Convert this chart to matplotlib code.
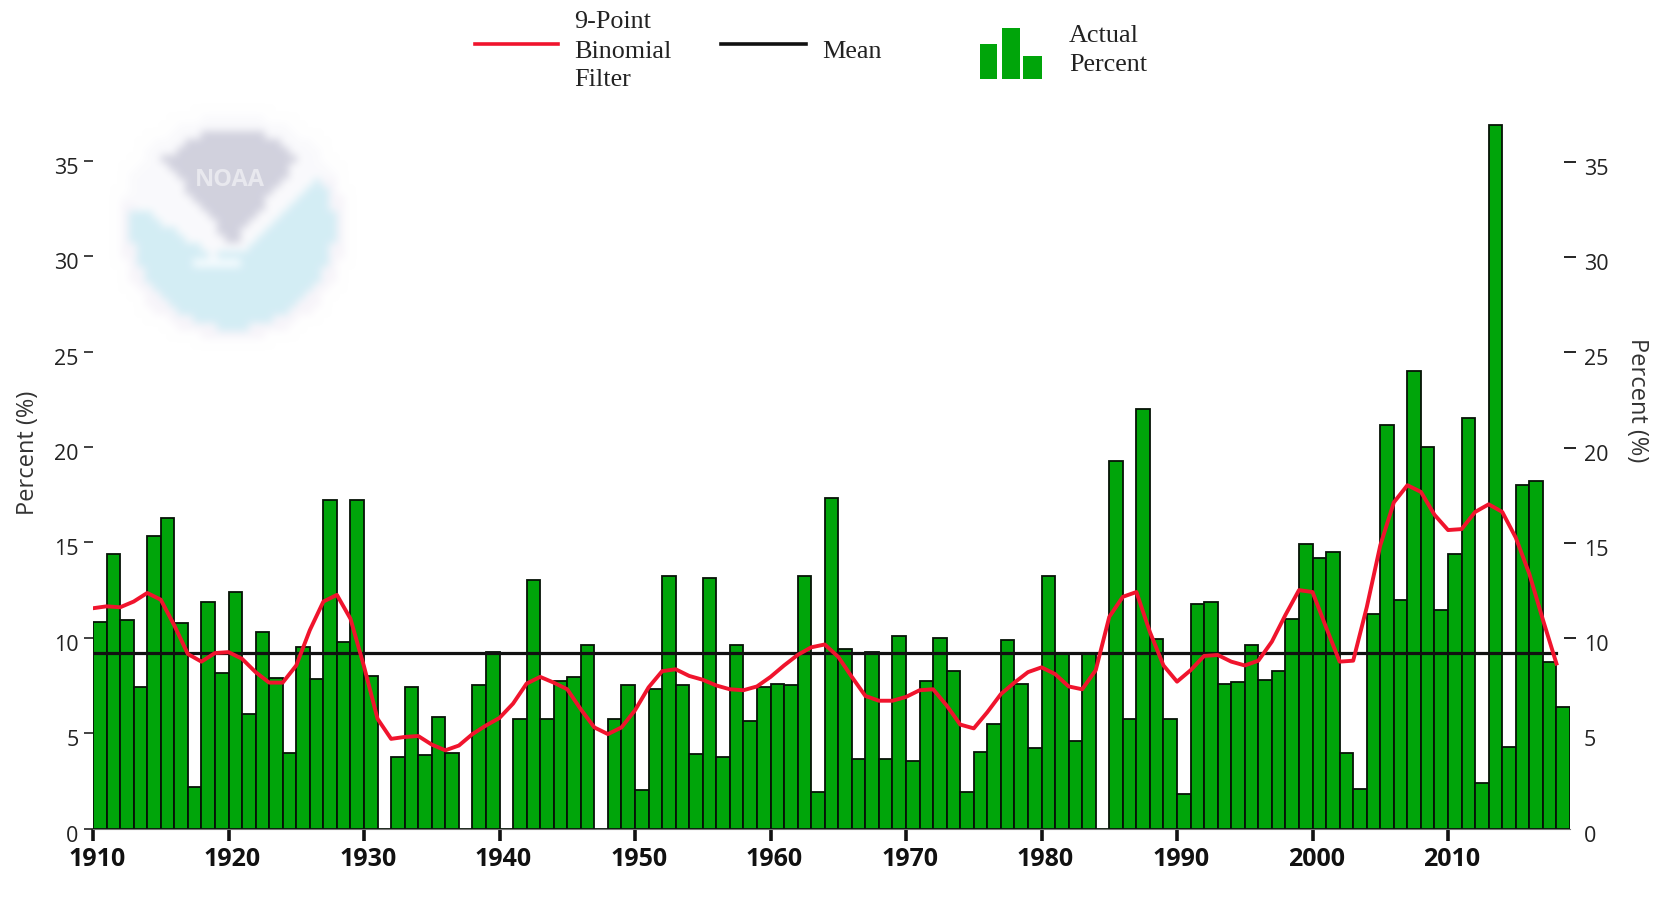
# Percent of area by year, bars with filter curve and mean line
import numpy as np
import matplotlib
matplotlib.use("Agg")
import matplotlib.pyplot as plt
from matplotlib.patches import Rectangle
from matplotlib.path import Path
from matplotlib.transforms import ScaledTranslation

years = list(range(1910, 2019))

actual_percent = [
    10.85, 14.4, 10.95, 7.4, 15.35, 16.3, 10.8, 2.2, 11.9, 8.15,
    12.4, 6.0, 10.3, 7.9, 3.95, 9.5, 7.85, 17.2, 9.8, 17.2,
    8.0, 0, 3.75, 7.4, 3.85, 5.85, 3.95, 0, 7.5, 9.25,
    0, 5.75, 13.05, 5.75, 7.75, 7.95, 9.6, 0, 5.75, 7.5,
    2.0, 7.3, 13.25, 7.5, 3.9, 13.15, 3.75, 9.6, 5.65, 7.4,
    7.6, 7.5, 13.25, 1.9, 17.35, 9.4, 3.65, 9.25, 3.65, 10.1,
    3.55, 7.75, 10.0, 8.25, 1.9, 4.0, 5.5, 9.9, 7.6, 4.2,
    13.25, 9.15, 4.6, 9.15, 0, 19.25, 5.75, 22.0, 9.95, 5.75,
    1.8, 11.75, 11.9, 7.6, 7.7, 9.6, 7.8, 8.25, 11.0, 14.9,
    14.2, 14.5, 3.95, 2.05, 11.25, 21.15, 12.0, 24.0, 20.0, 11.45,
    14.4, 21.5, 2.4, 36.9, 4.25, 18.0, 18.2, 8.75, 6.35,
]

binomial_filter = [
    11.55, 11.65, 11.6, 11.9, 12.35, 12.0, 10.65, 9.15, 8.75, 9.2,
    9.25, 8.9, 8.2, 7.65, 7.65, 8.55, 10.4, 11.9, 12.25, 11.0,
    8.5, 5.75, 4.7, 4.8, 4.85, 4.4, 4.1, 4.35, 4.95, 5.4,
    5.8, 6.55, 7.6, 7.95, 7.65, 7.3, 6.25, 5.3, 4.95, 5.3,
    6.2, 7.4, 8.25, 8.35, 8.0, 7.8, 7.5, 7.3, 7.25, 7.45,
    7.95, 8.55, 9.1, 9.5, 9.65, 9.0, 7.95, 6.95, 6.7, 6.7,
    6.9, 7.25, 7.3, 6.45, 5.45, 5.25, 6.1, 7.05, 7.65, 8.2,
    8.45, 8.1, 7.45, 7.3, 8.3, 11.1, 12.15, 12.4, 10.3, 8.55,
    7.7, 8.3, 9.05, 9.1, 8.75, 8.55, 8.8, 9.8, 11.2, 12.5,
    12.4, 10.55, 8.75, 8.8, 11.6, 14.85, 17.1, 18.0, 17.65, 16.45,
    15.65, 15.7, 16.6, 17.0, 16.6, 15.25, 13.35, 10.95, 8.65,
]

mean_percent = 9.2
x_ticks = list(range(1910, 2011, 10))
y_ticks = [0, 5, 10, 15, 20, 25, 30, 35]

W, H = 1661, 897
fig = plt.figure(figsize=(W / 100, H / 100), dpi=100, facecolor="white")
SANS = "Open Sans"
SERIF = "Liberation Serif"

AX_L, AX_R, AX_T, AX_B = 93, 1570, 113, 828.5
rect = [AX_L / W, 1 - AX_B / H, (AX_R - AX_L) / W, (AX_B - AX_T) / H]
y_top = (AX_B - AX_T) / 19.07


def nudge(label, dx, dy):
    # move a tick label by some pixels
    label.set_transform(label.get_transform() + ScaledTranslation(dx / 100, dy / 100, fig.dpi_scale_trans))


# faint logo behind everything, low-res array so bicubic blurs it
logo_ax = fig.add_axes([0, 0, 1, 1], zorder=0)
N = 34
gx, gy = np.meshgrid(np.linspace(-1.2, 1.2, N), np.linspace(-1.2, 1.2, N))
pts = np.column_stack([gx.ravel(), gy.ravel()])
rr = np.hypot(gx, gy)
logo = np.ones((N, N, 3))
logo[rr < 1.03] = [0.97, 0.96, 0.98]
logo[rr < 0.92] = [0.83, 0.93, 0.96]
upper_white = Path([(-1.2, -0.2), (-0.9, -0.2), (-0.18, 0.26), (0.15, 0.2), (0.77, -0.42), (1.2, -0.42),
                    (1.2, -1.2), (-1.2, -1.2)])
logo[upper_white.contains_points(pts).reshape(N, N) & (rr < 1.03)] = [0.98, 0.98, 0.99]
gray_shape = Path([(-0.65, -0.62), (-0.3, -0.84), (0.3, -0.84), (0.6, -0.62), (0.0, 0.18)])
logo[gray_shape.contains_points(pts).reshape(N, N)] = [0.82, 0.82, 0.87]
swoosh = (np.abs(gx + 0.14) < 0.2) & (np.abs(gy - 0.35) < 0.04)
logo[swoosh] = [0.97, 0.99, 1.0]
logo_ax.imshow(logo, extent=(233 - 135.6, 233 + 135.6, 227 + 135.6, 227 - 135.6),
               interpolation="bicubic", aspect="auto", zorder=1)
logo_ax.set_xlim(0, W)
logo_ax.set_ylim(H, 0)
logo_ax.axis("off")
logo_ax.text(230, 180, "NOAA", color="white", alpha=0.5, fontsize=17, family=SANS,
             fontweight="bold", ha="center", va="center", zorder=2)

# right axis sits below the bars, its lower ticks are covered anyway
ax2 = fig.add_axes(rect, zorder=1)
ax2.patch.set_visible(False)
ax2.set_xlim(1910, 2019)
ax2.set_ylim(0.05, y_top + 0.05)
ax2.set_xticks([])
ax2.yaxis.tick_right()
ax2.set_yticks(y_ticks)
ax2.tick_params(axis="y", direction="inout", length=8, width=1.2, pad=6,
                labelsize=15.5, labelcolor="#222222")
for lab in ax2.get_yticklabels():
    lab.set_family(SANS)
    nudge(lab, 0, -5)
for tk in ax2.yaxis.get_major_ticks()[:2]:
    tk.tick2line.set_visible(False)
for s in ax2.spines.values():
    s.set_visible(False)

ax = fig.add_axes(rect, zorder=2)
ax.patch.set_visible(False)
ax.bar(years, actual_percent, width=1.0, align="edge", color="#00a50a",
       edgecolor="#061206", linewidth=1.3, zorder=2)
ax.plot([1910, 2018], [mean_percent, mean_percent], color="#111111", lw=2.3, zorder=3)
ax.plot(years, binomial_filter, color="#f0142d", lw=2.8, solid_joinstyle="round", zorder=4)
ax.set_xlim(1910, 2019)
ax.set_ylim(0, y_top)
ax.set_xticks(x_ticks)
ax.set_yticks(y_ticks)
ax.tick_params(axis="x", length=8.5, width=2.6, color="#111111", pad=5)
ax.tick_params(axis="y", length=6.5, width=1.2, color="#222222", pad=4,
               labelsize=15.5, labelcolor="#222222")
for lab in ax.get_xticklabels():
    lab.set_family(SANS)
    lab.set_fontweight("bold")
    lab.set_fontsize(18)
    lab.set_color("#111111")
    nudge(lab, 4, 0)
for lab in ax.get_yticklabels():
    lab.set_family(SANS)
    nudge(lab, 0, -5)
for name in ["top", "left", "right"]:
    ax.spines[name].set_visible(False)
ax.spines["bottom"].set_color("#777777")
ax.spines["bottom"].set_linewidth(0.8)

# texts and legend drawn by hand in pixel space
over = fig.add_axes([0, 0, 1, 1], zorder=3)
over.set_xlim(0, W)
over.set_ylim(H, 0)
over.axis("off")
over.text(28, 453, "Percent (%)", rotation=90, ha="center", va="center",
          fontsize=17, family=SANS, color="#333333")
over.text(1637, 400, "Percent (%)", rotation=270, ha="center", va="center",
          fontsize=17, family=SANS, color="#333333")

over.plot([475, 558], [44, 44], color="#f0142d", lw=2.6)
over.plot([721, 806], [44, 44], color="#111111", lw=2.6)
for txt, yy in [("9-Point", 22), ("Binomial", 52), ("Filter", 80)]:
    over.text(574, yy, txt, fontsize=18.8, family=SERIF, color="#222222", va="center")
over.text(822, 52, "Mean", fontsize=18.8, family=SERIF, color="#222222", va="center")
for txt, yy in [("Actual", 36), ("Percent", 65)]:
    over.text(1069, yy, txt, fontsize=18.8, family=SERIF, color="#222222", va="center")
for x0, x1, top in [(980, 997, 44), (1002, 1020, 28), (1023, 1042, 56)]:
    over.add_patch(Rectangle((x0, top), x1 - x0, 79 - top, facecolor="#00a50a", edgecolor="none"))

fig.savefig("out.png", dpi=100, facecolor="white")
